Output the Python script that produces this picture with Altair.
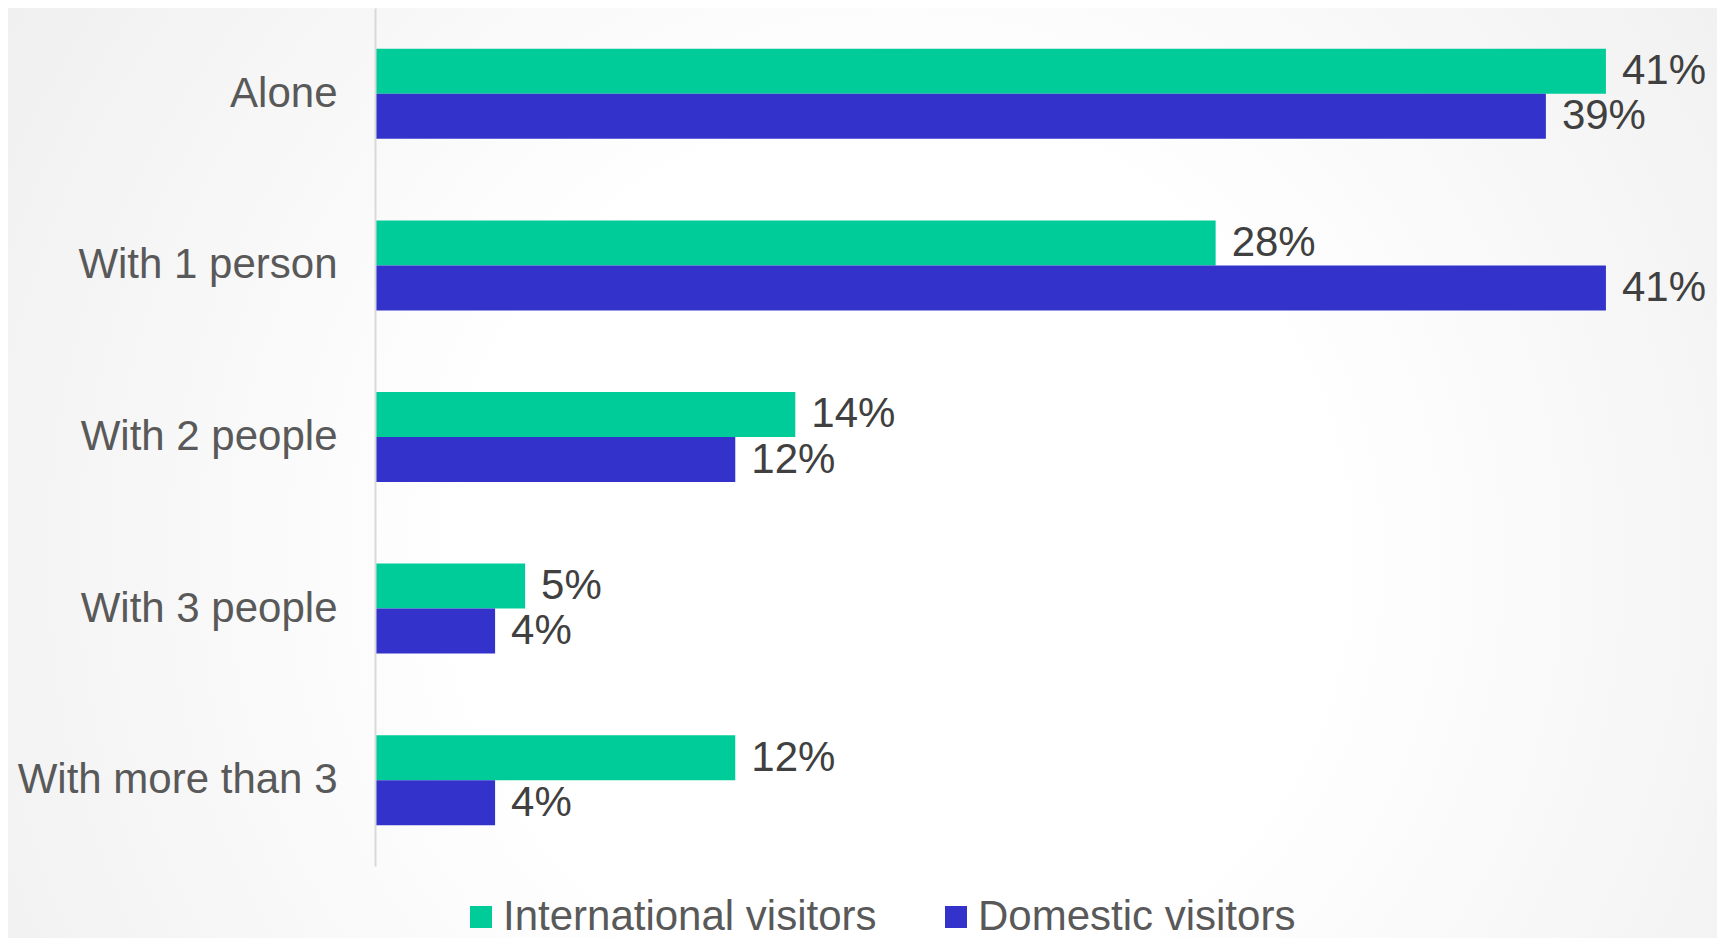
import altair as alt
import pandas as pd

categories = ["Alone", "With 1 person", "With 2 people", "With 3 people", "With more than 3"]
series = ["International visitors", "Domestic visitors"]
international = [41, 28, 14, 5, 12]
domestic = [39, 41, 12, 4, 4]
colors = ["#00CC99", "#3333CC"]

rows = []
for c, v in zip(categories, international):
    rows.append({"category": c, "series": series[0], "value": v, "label": f"{v}%"})
for c, v in zip(categories, domestic):
    rows.append({"category": c, "series": series[1], "value": v, "label": f"{v}%"})
df = pd.DataFrame(rows)

PLOT_W = 1321
PLOT_H = 858
PAD_L, PAD_R, PAD_T, PAD_B = 367, 21, 0, 72

y_enc = alt.Y(
    "category:N",
    sort=categories,
    scale=alt.Scale(domain=categories, paddingInner=0.4755, paddingOuter=0.2378),
    axis=alt.Axis(
        title=None,
        labelFontSize=42,
        labelColor="#595959",
        labelPadding=38,
        labelLimit=500,
        ticks=False,
        domainColor="#d9d9d9",
        domainWidth=2,
        grid=False,
        zindex=1,
    ),
)
x_enc = alt.X("value:Q", scale=alt.Scale(domain=[0, 44], nice=False), axis=None)
yoff = alt.YOffset("series:N", sort=series, scale=alt.Scale(domain=series, paddingInner=0, paddingOuter=0))

background = alt.Chart(alt.Data(values=[{"bg": 1}])).mark_rect(
    fill=alt.Gradient(
        gradient="radial",
        stops=[
            alt.GradientStop(color="#ffffff", offset=0),
            alt.GradientStop(color="#ffffff", offset=0.35),
            alt.GradientStop(color="#ebebeb", offset=1),
        ],
        x1=0.52, y1=0.55, r1=0, x2=0.52, y2=0.55, r2=0.72,
    )
).encode(
    x=alt.value(-PAD_L),
    x2=alt.value(PLOT_W + PAD_R),
    y=alt.value(-PAD_T),
    y2=alt.value(PLOT_H + PAD_B),
)

bars = alt.Chart(df).mark_bar().encode(
    y=y_enc,
    x=x_enc,
    yOffset=yoff,
    color=alt.Color(
        "series:N",
        sort=series,
        scale=alt.Scale(domain=series, range=colors),
        legend=alt.Legend(
            title=None,
            orient="none",
            legendX=85,
            legendY=888,
            direction="horizontal",
            symbolType="square",
            symbolSize=484,
            symbolStrokeWidth=0,
            labelFontSize=42,
            labelColor="#595959",
            labelOffset=1,
            columnPadding=58,
            padding=0,
            labelLimit=600,
        ),
    ),
)

text = alt.Chart(df).mark_text(
    align="left", baseline="middle", dx=16, fontSize=42, color="#404040"
).encode(
    y=alt.Y("category:N", sort=categories),
    x=alt.X("value:Q"),
    yOffset=alt.YOffset("series:N", sort=series),
    text="label:N",
)

chart = alt.layer(background, bars, text).properties(
    width=PLOT_W,
    height=PLOT_H,
    autosize=alt.AutoSizeParams(type="none"),
    padding={"left": PAD_L, "right": PAD_R, "top": PAD_T, "bottom": PAD_B},
    background="#f3f3f3",
).configure(
    font="Liberation Sans",
).configure_view(
    stroke=None,
)

chart.save("out.html", embed_options={"renderer": "svg", "actions": False})
